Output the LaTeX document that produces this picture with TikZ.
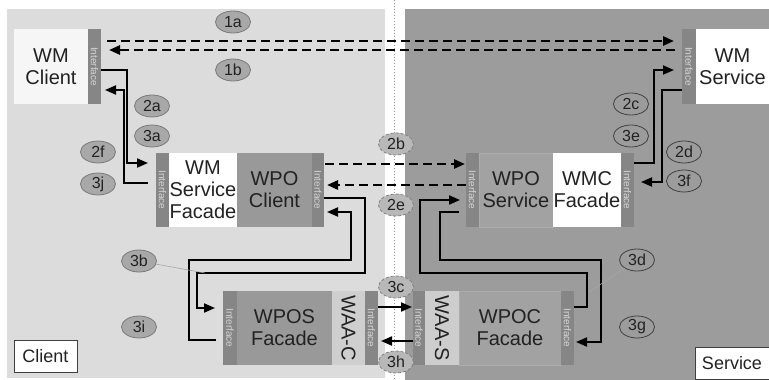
\documentclass[tikz,border=0pt]{standalone}
\usepackage{fontspec}
\setmainfont{Liberation Sans}
\usetikzlibrary{shapes.geometric,arrows.meta,calc}
\definecolor{bgL}{HTML}{DCDCDC}
\definecolor{bgR}{HTML}{9C9C9C}
\definecolor{ifc}{HTML}{868686}
\definecolor{ifct}{HTML}{D4D4D4}
\definecolor{boxW}{HTML}{F6F6F6}
\definecolor{boxG}{HTML}{999999}
\definecolor{boxR}{HTML}{A2A2A2}
\definecolor{boxRb}{HTML}{ACACAC}
\definecolor{waa}{HTML}{CFCFCF}
\definecolor{labL}{HTML}{A8A8A8}
\definecolor{labLd}{HTML}{7A7A7A}
\definecolor{labC}{HTML}{B8B8B8}
\definecolor{txt}{HTML}{222222}
\begin{document}
\begin{tikzpicture}[x=1pt,y=-1pt,
  box/.style={inner sep=0pt, outer sep=0pt, anchor=north west, minimum height=74pt,
    align=center, font=\fontsize{20}{22}\selectfont, text=txt},
  iface/.style={box, fill=ifc, minimum width=13pt,
    label={[rotate=-90, font=\fontsize{10}{10}\selectfont, text=ifct, inner sep=0pt]center:Interface}},
  rtext/.style={rotate=-90, inner sep=0pt, font=\fontsize{20}{22}\selectfont, text=txt},
  conn/.style={line width=2pt, draw=black, -{Triangle[length=11pt,width=9pt]}},
  dconn/.style={line width=2.5pt, draw=black, dash pattern=on 9pt off 5pt, -{Triangle[length=11pt,width=9pt]}},
  lab/.style={ellipse, inner sep=0pt, minimum width=35pt, minimum height=22pt,
    font=\fontsize{16}{16}\selectfont, text=txt, line width=0.8pt},
  labl/.style={lab, fill=labL, draw=labLd},
  labr/.style={lab, fill=bgR, draw=black!75},
  labc/.style={lab, fill=labC, draw=black!50, densely dashed},
  side/.style={inner sep=0pt, outer sep=0pt, anchor=north west, draw=black!75, line width=0.8pt,
    fill=white, font=\fontsize{18}{18}\selectfont, text=txt},
  thinl/.style={draw=black!35, line width=0.6pt}
]
\useasboundingbox (0,0) rectangle (769,380);
\fill[white] (0,0) rectangle (769,380);
\fill[bgL] (7,9) rectangle (385,378);
\fill[bgR] (405,9) rectangle (769,380);
\draw[black!40, line width=1pt, dotted] (394,0) -- (394,380);

% top row
\node[box, fill=boxW, minimum width=74pt, minimum height=75pt] (wmc) at (14,29) {WM\\Client};
\node[iface, minimum height=75pt] (wmci) at (88,29) {};
\node[iface, minimum height=75pt, minimum width=14pt] (wmsi) at (682,29) {};
\node[box, fill=white, minimum width=73pt, minimum height=75pt] (wms) at (696,29) {WM\\Service};

% middle row
\node[iface] (wsfi) at (156,153) {};
\node[box, fill=white, minimum width=68pt] (wsf) at (169,153) {WM\\Service\\Facade};
\node[box, fill=boxG, minimum width=75pt] (wpoc) at (237,153) {WPO\\Client};
\node[iface, minimum width=12pt] (wpoci) at (312,153) {};

\node[iface] (wposi) at (466,153) {};
\node[box, fill=boxR, draw=boxRb, line width=0.6pt, minimum width=74pt] (wpos) at (479,153) {WPO\\Service};
\node[box, fill=white, minimum width=68pt] (wmcf) at (553,153) {WMC\\Facade};
\node[iface] (wmcfi) at (621,153) {};

% bottom row
\node[iface, minimum width=14pt] (wposfi) at (223,291) {};
\node[box, fill=boxG, minimum width=95pt] (wposf) at (237,291) {WPOS\\Facade};
\node[box, fill=waa, minimum width=33pt] (waac) at (332,291) {};
\node[rtext] (waact) at (waac.center) {WAA-C};
\node[iface] (waaci) at (365,291) {};

\node[iface, minimum width=12pt] (waasi) at (413,291) {};
\node[box, fill=waa!105, minimum width=34pt] (waas) at (425,291) {};
\node[rtext] (waast) at (waas.center) {WAA-S};
\node[box, fill=boxR, draw=boxRb, line width=0.6pt, minimum width=102pt] (wpocf) at (459,291) {WPOC\\Facade};
\node[iface] (wpocfi) at (561,291) {};

% side labels
\node[side, minimum width=63pt, minimum height=32pt] (client) at (14,340) {Client};
\node[side, minimum width=74pt, minimum height=32pt] (service) at (695,347) {Service};

% dashed connectors
\draw[dconn] ($(wmci.north east)+(6,12)$) -- ($(wmsi.north west)+(-8,12)$);
\draw[dconn] ($(wmsi.north west)+(-7,21)$) -- ($(wmci.north east)+(8,21)$);
\draw[dconn] ($(wpoci.north east)+(1,11)$) -- ($(wposi.north west)+(-1,11)$);
\draw[dconn] ($(wposi.north west)+(0,32)$) -- ($(wpoci.north east)+(3,32)$);

% solid connectors
\draw[conn] ($(wmci.north east)+(0,41)$) -- ++(26,0) |- ($(wsfi.north west)+(-8,10)$);
\draw[conn] ($(wsfi.north west)+(-8,30)$) -| ($(wmci.north east)+(23,61)$) -- ($(wmci.north east)+(4,61)$);
\draw[conn] ($(wmcfi.north east)+(0,10)$) -- ++(20,0) |- ($(wmsi.north west)+(-8,41)$);
\draw[conn] ($(wmsi.north west)+(0,61)$) -- ++(-20,0) |- ($(wmcfi.north east)+(7,29)$);

\draw[conn] ($(wpoci.north east)+(0,45)$) -- ++(41,0) |- ($(wposfi.north west)+(-26,-18)$) |- ($(wposfi.north west)+(-8,17)$);
\draw[conn] ($(wposfi.north west)+(-7,49)$) -| ($(wposfi.north west)+(-34,-31)$) -| ($(wpoci.north east)+(27,59)$) -- ($(wpoci.north east)+(3,59)$);

\draw[conn] ($(wposi.north west)+(-7,59)$) -- ++(-19,0) |- ($(wpocfi.north east)+(27,-31)$) |- ($(wpocfi.north east)+(2,51)$);
\draw[conn] ($(wpocfi.north east)+(0,16)$) -- ++(13,0) |- ($(wposi.north west)+(-46,120)$) |- ($(wposi.north west)+(-6,47)$);

\draw[conn] ($(waaci.north east)+(0,16)$) -- ($(waasi.north west)+(-1,16)$);
\draw[conn] ($(waasi.north west)+(0,50)$) -- ($(waaci.north east)+(3,50)$);

% step labels
\node[labl] (l1a) at (233,22) {1a};
\node[labl] (l1b) at (233,70) {1b};
\node[labl] (l2a) at (152,106) {2a};
\node[labl] (l3a) at (152,136) {3a};
\node[labl] (l2f) at (98,152) {2f};
\node[labl] (l3j) at (98,184) {3j};
\node[labl] (l3b) at (139,261) {3b};
\node[labl] (l3i) at (139,327) {3i};
\node[labc] (l2b) at (396,144) {2b};
\node[labc] (l2e) at (396,205) {2e};
\node[labc] (l3c) at (396,287) {3c};
\node[labc] (l3h) at (396,362) {3h};
\node[labr] (l2c) at (631,104) {2c};
\node[labr] (l3e) at (631,136) {3e};
\node[labr] (l2d) at (684,152) {2d};
\node[labr] (l3f) at (684,181) {3f};
\node[labr] (l3d) at (637,260) {3d};
\node[labr] (l3g) at (637,327) {3g};

% pointer lines
\coordinate (p3b) at (205,273);
\coordinate (p3d) at (589,292);
\draw[thinl] (l3b) -- (p3b);
\draw[thinl] (l3d) -- (p3d);
\end{tikzpicture}
\end{document}
